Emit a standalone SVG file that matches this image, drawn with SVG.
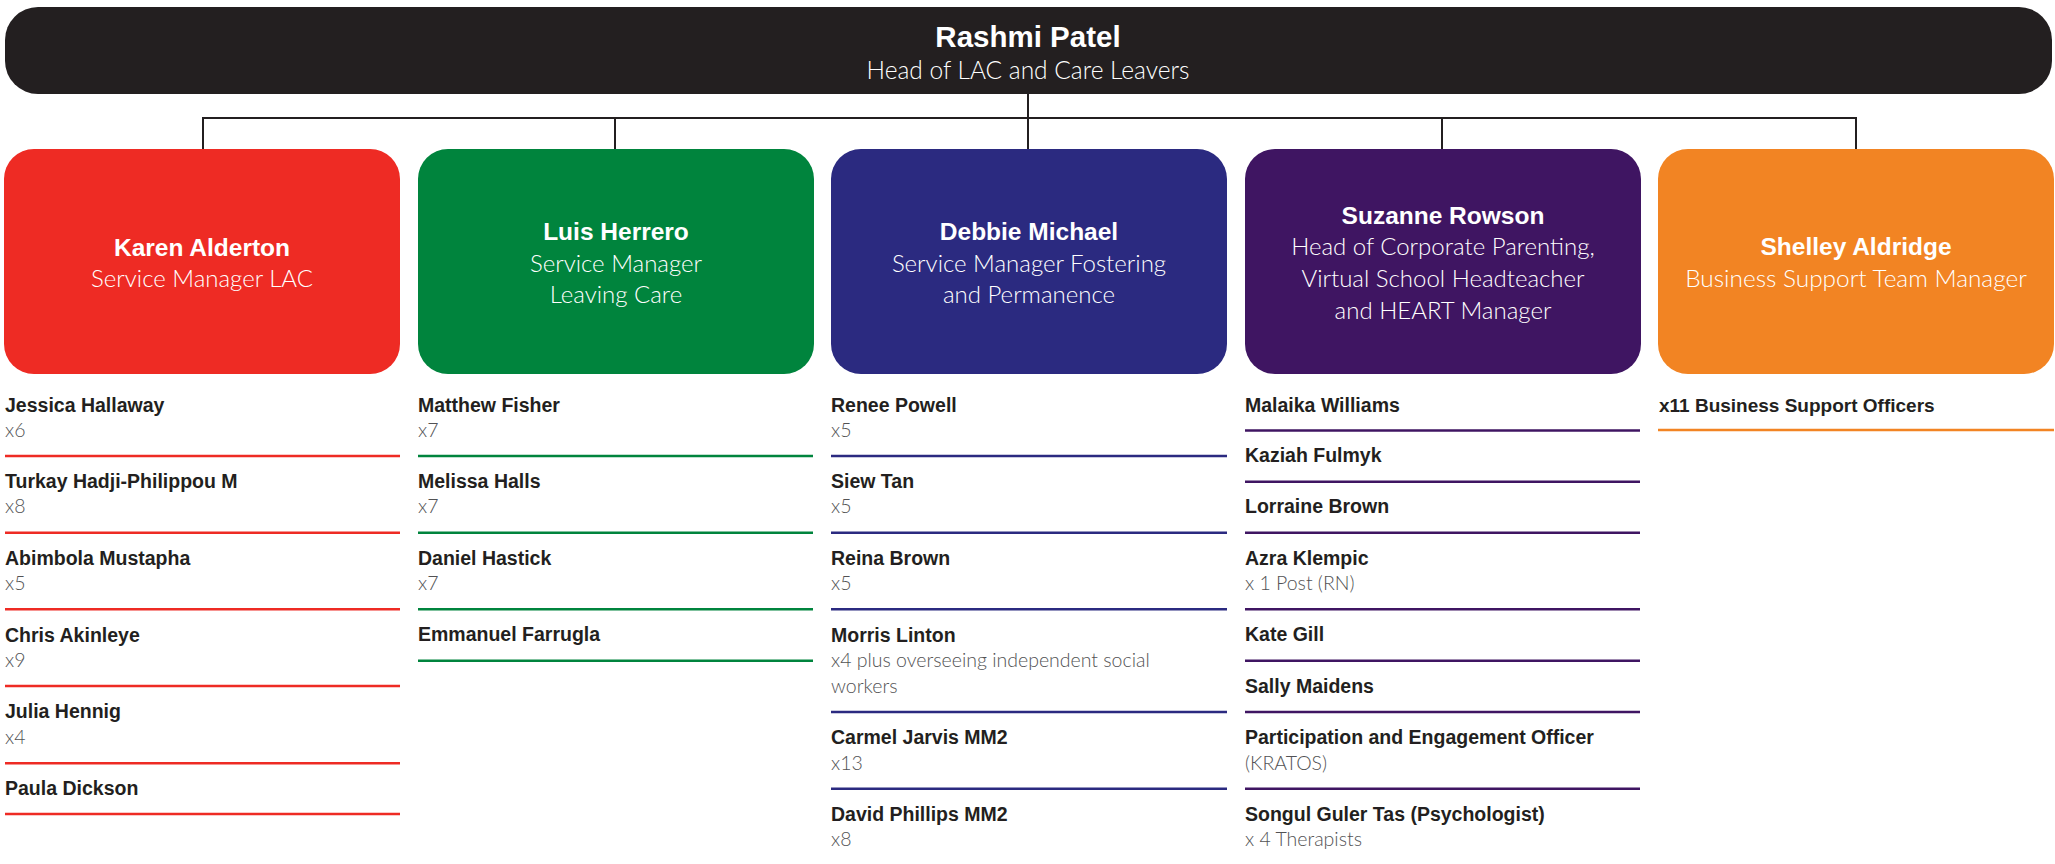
<svg xmlns="http://www.w3.org/2000/svg" width="2055" height="864" viewBox="0 0 2055 864">
<style>
.bg{fill:#ffffff}
.t{font-family:"Liberation Sans",Arial,sans-serif;font-weight:bold;fill:#ffffff;text-anchor:middle}
.s{font-family:Lato,"Liberation Sans",sans-serif;font-weight:300;fill:#ffffff;text-anchor:middle}
.bt{font-size:24.5px}
.bs{font-size:24px}
.n{font-family:"Liberation Sans",Arial,sans-serif;font-weight:bold;font-size:19.5px;fill:#231f20}
.d{font-family:Lato,"Liberation Sans",sans-serif;font-weight:300;font-size:19.5px;fill:#525254}
.conn{fill:none;stroke:#231f20;stroke-width:2}
.lr{stroke:#ee2b24;stroke-width:2.6}
.lg{stroke:#00843d;stroke-width:2.6}
.lb{stroke:#2b2a80;stroke-width:2.6}
.lp{stroke:#3f1562;stroke-width:2.6}
.lo{stroke:#f28423;stroke-width:2.6}
</style>
<rect class="bg" x="0" y="0" width="2055" height="864"/>
<g id="connectors">
<path class="conn" d="M1028 94 V149 M203 149 V118 H1856 V149 M615 118 V149 M1442 118 V149"/>
</g>
<g id="head">
<rect x="5" y="7" width="2047" height="87" rx="33" ry="33" fill="#231f20"/>
<text class="t" x="1028" y="47" style="font-size:29.5px">Rashmi Patel</text>
<text class="s" x="1028" y="79" style="font-size:24.5px">Head of LAC and Care Leavers</text>
</g>
<g id="karen">
<rect x="4" y="149" width="396" height="225" rx="30" fill="#ee2b24"/>
<text class="t bt" x="202" y="255.5">Karen Alderton</text>
<text class="s bs" x="202" y="287">Service Manager LAC</text>
</g>
<g id="luis">
<rect x="418" y="149" width="396" height="225" rx="30" fill="#00843d"/>
<text class="t bt" x="616" y="240">Luis Herrero</text>
<text class="s bs" x="616" y="271.5">Service Manager</text>
<text class="s bs" x="616" y="303">Leaving Care</text>
</g>
<g id="debbie">
<rect x="831" y="149" width="396" height="225" rx="30" fill="#2b2a80"/>
<text class="t bt" x="1029" y="239.5">Debbie Michael</text>
<text class="s bs" x="1029" y="271.5">Service Manager Fostering</text>
<text class="s bs" x="1029" y="303">and Permanence</text>
</g>
<g id="suzanne">
<rect x="1245" y="149" width="396" height="225" rx="30" fill="#3f1562"/>
<text class="t bt" x="1443" y="223.5">Suzanne Rowson</text>
<text class="s bs" x="1443" y="255">Head of Corporate Parenting,</text>
<text class="s bs" x="1443" y="286.5">Virtual School Headteacher</text>
<text class="s bs" x="1443" y="318.5">and HEART Manager</text>
</g>
<g id="shelley">
<rect x="1658" y="149" width="396" height="225" rx="30" fill="#f28423"/>
<text class="t bt" x="1856" y="255">Shelley Aldridge</text>
<text class="s" x="1856" y="287" style="font-size:24.4px">Business Support Team Manager</text>
</g>
<g id="list-red">
<text class="n" x="5" y="411.7">Jessica Hallaway</text>
<text class="d" x="5" y="437.3">x6</text>
<line class="lr" x1="5" y1="456" x2="400" y2="456"/>
<text class="n" x="5" y="488.3">Turkay Hadji-Philippou M</text>
<text class="d" x="5" y="513.3">x8</text>
<line class="lr" x1="5" y1="532.7" x2="400" y2="532.7"/>
<text class="n" x="5" y="565">Abimbola Mustapha</text>
<text class="d" x="5" y="590">x5</text>
<line class="lr" x1="5" y1="609.3" x2="400" y2="609.3"/>
<text class="n" x="5" y="641.7">Chris Akinleye</text>
<text class="d" x="5" y="666.7">x9</text>
<line class="lr" x1="5" y1="686" x2="400" y2="686"/>
<text class="n" x="5" y="718.3">Julia Hennig</text>
<text class="d" x="5" y="744">x4</text>
<line class="lr" x1="5" y1="763.3" x2="400" y2="763.3"/>
<text class="n" x="5" y="795">Paula Dickson</text>
<line class="lr" x1="5" y1="814" x2="400" y2="814"/>
</g>
<g id="list-green">
<text class="n" x="418" y="411.7">Matthew Fisher</text>
<text class="d" x="418" y="437.3">x7</text>
<line class="lg" x1="418" y1="456" x2="813" y2="456"/>
<text class="n" x="418" y="488.3">Melissa Halls</text>
<text class="d" x="418" y="513.3">x7</text>
<line class="lg" x1="418" y1="532.7" x2="813" y2="532.7"/>
<text class="n" x="418" y="565">Daniel Hastick</text>
<text class="d" x="418" y="590">x7</text>
<line class="lg" x1="418" y1="609.3" x2="813" y2="609.3"/>
<text class="n" x="418" y="641">Emmanuel Farrugla</text>
<line class="lg" x1="418" y1="660.7" x2="813" y2="660.7"/>
</g>
<g id="list-blue">
<text class="n" x="831" y="411.7">Renee Powell</text>
<text class="d" x="831" y="437.3">x5</text>
<line class="lb" x1="831" y1="456" x2="1227" y2="456"/>
<text class="n" x="831" y="488.3">Siew Tan</text>
<text class="d" x="831" y="513.3">x5</text>
<line class="lb" x1="831" y1="532.7" x2="1227" y2="532.7"/>
<text class="n" x="831" y="565">Reina Brown</text>
<text class="d" x="831" y="590">x5</text>
<line class="lb" x1="831" y1="609.3" x2="1227" y2="609.3"/>
<text class="n" x="831" y="641.7">Morris Linton</text>
<text class="d" x="831" y="667.3">x4 plus overseeing independent social</text>
<text class="d" x="831" y="693">workers</text>
<line class="lb" x1="831" y1="712" x2="1227" y2="712"/>
<text class="n" x="831" y="744">Carmel Jarvis MM2</text>
<text class="d" x="831" y="770">x13</text>
<line class="lb" x1="831" y1="788.7" x2="1227" y2="788.7"/>
<text class="n" x="831" y="820.7">David Phillips MM2</text>
<text class="d" x="831" y="846">x8</text>
</g>
<g id="list-purple">
<text class="n" x="1245" y="411.7">Malaika Williams</text>
<line class="lp" x1="1245" y1="430.5" x2="1640" y2="430.5"/>
<text class="n" x="1245" y="462">Kaziah Fulmyk</text>
<line class="lp" x1="1245" y1="481.7" x2="1640" y2="481.7"/>
<text class="n" x="1245" y="513.3">Lorraine Brown</text>
<line class="lp" x1="1245" y1="532.7" x2="1640" y2="532.7"/>
<text class="n" x="1245" y="565">Azra Klempic</text>
<text class="d" x="1245" y="590">x 1 Post (RN)</text>
<line class="lp" x1="1245" y1="609.3" x2="1640" y2="609.3"/>
<text class="n" x="1245" y="641">Kate Gill</text>
<line class="lp" x1="1245" y1="660.7" x2="1640" y2="660.7"/>
<text class="n" x="1245" y="692.7">Sally Maidens</text>
<line class="lp" x1="1245" y1="712" x2="1640" y2="712"/>
<text class="n" x="1245" y="744">Participation and Engagement Officer</text>
<text class="d" x="1245" y="769.7">(KRATOS)</text>
<line class="lp" x1="1245" y1="788.7" x2="1640" y2="788.7"/>
<text class="n" x="1245" y="820.7">Songul Guler Tas (Psychologist)</text>
<text class="d" x="1245" y="846">x 4 Therapists</text>
</g>
<g id="list-orange">
<text class="n" x="1659" y="411.7" style="font-size:19px">x11 Business Support Officers</text>
<line class="lo" x1="1658" y1="430" x2="2054" y2="430"/>
</g>
</svg>
